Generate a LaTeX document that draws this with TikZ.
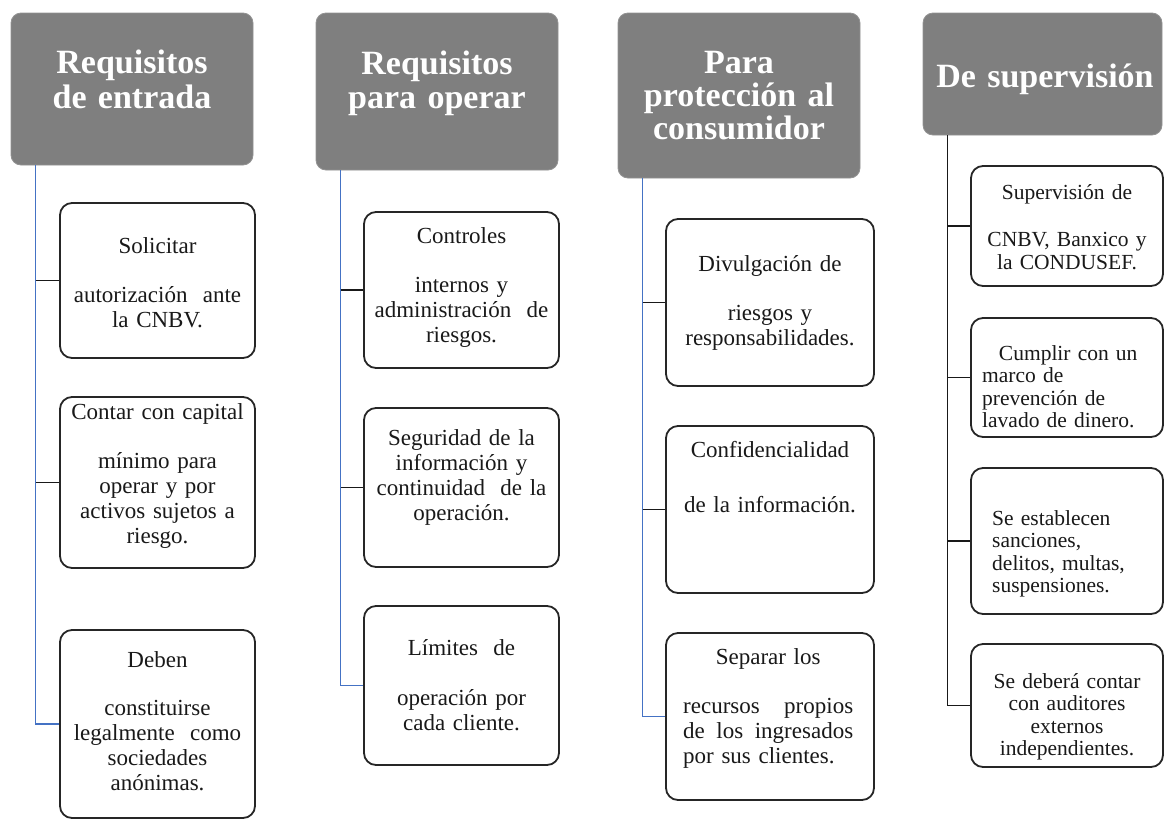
\documentclass[tikz,border=0pt]{standalone}
\usepackage{fontspec}
\setmainfont{Liberation Serif}
\definecolor{hdr}{RGB}{127,127,127}
\definecolor{conn}{RGB}{68,114,196}
\tikzset{
  hdrbox/.style={draw=hdr!85!white, line width=0.8pt, fill=hdr, rounded corners=10pt, inner sep=0pt},
  itembox/.style={draw=black!85, line width=1.8pt, rounded corners=12pt, fill=white, inner sep=0pt},
  hdrtxt/.style={text=white, font=\fontsize{34}{35}\selectfont\bfseries, align=center, text width=236pt, inner sep=0pt, anchor=base},
  itemtxt/.style={text=black!90, font=\fontsize{23}{25}\selectfont, align=center, text width=192pt, inner sep=0pt, anchor=base},
  itemtxtb/.style={text=black!90, font=\fontsize{21.5}{22.5}\selectfont, align=center, text width=186pt, inner sep=0pt, anchor=base},
  spine/.style={draw=conn, line width=1.7pt},
  stub/.style={draw=black!90, line width=1.7pt},
}
\begin{document}
\begin{tikzpicture}[x=1pt,y=-1pt]
\useasboundingbox (0,0) rectangle (1165,820);

% ---------- headers ----------
\node[hdrbox, minimum width=242pt, minimum height=152pt] (h1) at (132,89) {};
\node[hdrbox, minimum width=242pt, minimum height=157pt] (h2) at (437,91.5) {};
\node[hdrbox, minimum width=242pt, minimum height=165pt] (h3) at (739,95.5) {};
\node[hdrbox, minimum width=239pt, minimum height=122pt] (h4) at (1042.5,74) {};

\node[hdrtxt] (th1) at (132,73) {Requisitos\\de entrada};
\node[hdrtxt, font=\fontsize{34}{34}\selectfont\bfseries] (th2) at (437,74) {Requisitos\\para operar};
\node[hdrtxt, font=\fontsize{34}{33}\selectfont\bfseries] (th3) at (739,73) {Para\\protección al\\consumidor};
\node[hdrtxt] (th4) at (1045,87) {De supervisión};

% ---------- column 1 ----------
\node[itembox, minimum width=195pt, minimum height=155pt] (c11) at (157.5,280.5) {};
\node[itembox, minimum width=195pt, minimum height=171pt] (c12) at (157.5,482.5) {};
\node[itembox, minimum width=195pt, minimum height=188pt] (c13) at (157.5,724) {};

\node[itemtxt] (t11) at (157.5,253) {Solicitar\\[24pt]autorización\ \ ante\\la CNBV.};
\node[itemtxt] (t12) at (157.5,419) {Contar con capital\\[24pt]mínimo para\\operar y por\\activos sujetos a\\riesgo.};
\node[itemtxt] (t13) at (157.5,667) {Deben\\[23pt]constituirse\\legalmente\ \ como\\sociedades\\anónimas.};

% ---------- column 2 ----------
\node[itembox, minimum width=195pt, minimum height=156pt] (c21) at (461.5,290) {};
\node[itembox, minimum width=195pt, minimum height=159pt] (c22) at (461.5,487.5) {};
\node[itembox, minimum width=195pt, minimum height=159pt] (c23) at (461.5,685.5) {};

\node[itemtxt] (t21) at (461.5,243) {Controles\\[24pt]internos y\\administración\ \ de\\riesgos.};
\node[itemtxt] (t22) at (461.5,445) {Seguridad de la\\información y\\continuidad\ \ de la\\operación.};
\node[itemtxt] (t23) at (461.5,655) {Límites\ \ de\\[25pt]operación por\\cada cliente.};

% ---------- column 3 ----------
\node[itembox, minimum width=208pt, minimum height=167pt] (c31) at (770,302.5) {};
\node[itembox, minimum width=208pt, minimum height=167pt] (c32) at (770,509.5) {};
\node[itembox, minimum width=208pt, minimum height=167pt] (c33) at (770,716.5) {};

\node[itemtxt, text width=204pt] (t31) at (770,271) {Divulgación de\\[24pt]riesgos y\\responsabilidades.};
\node[itemtxt, text width=204pt] (t32) at (770,457) {Confidencialidad\\[30pt]de la información.};
\node[itemtxt, align=left, text width=170pt, anchor=base west] (t33) at (683,664)
  {\hfill Separar los\hfill\null\\[24pt]recursos\hfill propios\\de\hfill los\hfill ingresados\\por sus clientes.};

% ---------- column 4 ----------
\node[itembox, minimum width=192pt, minimum height=120pt] (c41) at (1067,226) {};
\node[itembox, minimum width=192pt, minimum height=119pt] (c42) at (1067,377.5) {};
\node[itembox, minimum width=192pt, minimum height=146pt] (c43) at (1067,541) {};
\node[itembox, minimum width=192pt, minimum height=123pt] (c44) at (1067,705.5) {};

\node[itemtxtb] (t41) at (1067,199) {Supervisión de\\[25pt]CNBV, Banxico y\\la CONDUSEF.};
\node[itemtxtb, align=left, text width=172pt, anchor=base west] (t42) at (982,360)
  {\hfill Cumplir con un\hfill\null\\marco de\\prevención de\\lavado de dinero.};
\node[itemtxtb, align=left, text width=165pt, anchor=base west] (t43) at (992,525)
  {Se establecen\\sanciones,\\delitos, multas,\\suspensiones.};
\node[itemtxtb] (t44) at (1067,688) {Se deberá contar\\con auditores\\externos\\independientes.};

% ---------- connectors ----------
\coordinate (s1) at ([xshift=25pt]h1.south west);
\coordinate (s2) at ([xshift=25pt]h2.south west);
\coordinate (s3) at ([xshift=25pt]h3.south west);
\coordinate (s4) at ([xshift=25pt]h4.south west);

\draw[spine] (s1) |- (c13.west);
\draw[stub] (s1 |- c11.west) -- (c11.west);
\draw[stub] (s1 |- c12.west) -- (c12.west);

\draw[spine] (s2) |- (c23.west);
\draw[stub] (s2 |- c21.west) -- (c21.west);
\draw[stub] (s2 |- c22.west) -- (c22.west);

\draw[spine] (s3) |- (c33.west);
\draw[stub] (s3 |- c31.west) -- (c31.west);
\draw[stub] (s3 |- c32.west) -- (c32.west);

\draw[stub] (s4) |- (c44.west);
\draw[stub] (s4 |- c41.west) -- (c41.west);
\draw[stub] (s4 |- c42.west) -- (c42.west);
\draw[stub] (s4 |- c43.west) -- (c43.west);
\end{tikzpicture}
\end{document}
